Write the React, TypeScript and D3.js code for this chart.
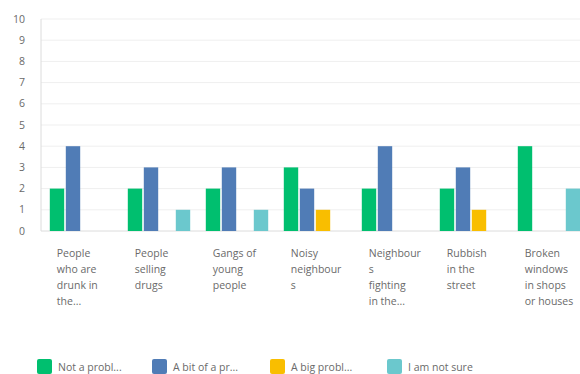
import React from "react";
import * as d3 from "d3";

const categories = [
  "People who are drunk in the street",
  "People selling drugs",
  "Gangs of young people",
  "Noisy neighbours",
  "Neighbours fighting in the street",
  "Rubbish in the street",
  "Broken windows in shops or houses",
];
const categoryLabelLines = [
  ["People", "who are", "drunk in", "the..."],
  ["People", "selling", "drugs"],
  ["Gangs of", "young", "people"],
  ["Noisy", "neighbour", "s"],
  ["Neighbour", "s", "fighting", "in the..."],
  ["Rubbish", "in the", "street"],
  ["Broken", "windows", "in shops", "or houses"],
];
const seriesNames = ["Not a probl...", "A bit of a pr...", "A big probl...", "I am not sure"];
const notAProblem = [2, 2, 2, 3, 2, 2, 4];
const bitOfAProblem = [4, 3, 3, 2, 4, 3, 0];
const bigProblem = [0, 0, 0, 1, 0, 1, 0];
const notSure = [0, 1, 1, 0, 0, 0, 2];
const yTicks = [0, 1, 2, 3, 4, 5, 6, 7, 8, 9, 10];
const colors = ["#00BF6F", "#507CB6", "#F9BE00", "#6BC8CD"];

const W = 580;
const H = 374;

export default function App() {
  const seriesValues = [notAProblem, bitOfAProblem, bigProblem, notSure];
  const left = 41;
  const y = d3.scaleLinear().domain([0, 10]).range([231, 19]);
  const x0 = d3
    .scaleBand<string>()
    .domain(categories)
    .range([left + 1, left + 1 + 78 * 7])
    .paddingInner(0.2)
    .paddingOuter(0.1);
  const x1 = d3
    .scaleBand<string>()
    .domain(seriesNames)
    .range([0, x0.bandwidth()])
    .paddingInner(0.1);
  const font = "'Open Sans', 'Noto Sans', sans-serif";
  const textColor = "#6a6a6a";
  const legendX = [37, 152, 270, 387];

  return (
    <svg
      width={W}
      height={H}
      style={{ position: "absolute", left: 0, top: 0, background: "#fff" }}
      fontFamily={font}
    >
      {yTicks.map((t) => (
        <g key={t}>
          {t > 0 && (
            <line x1={left} x2={W} y1={y(t)} y2={y(t)} stroke="#efefef" strokeWidth={1} />
          )}
          <text
            x={25}
            y={y(t)}
            dy="0.35em"
            textAnchor="end"
            fontSize={10.5}
            fill={textColor}
          >
            {t}
          </text>
        </g>
      ))}
      <line x1={left} x2={left} y1={y(10)} y2={y(0)} stroke="#dcdcdc" />
      <line x1={left} x2={W} y1={y(0)} y2={y(0)} stroke="#dcdcdc" />
      {categories.map((c, ci) => (
        <g key={c} transform={`translate(${x0(c)},0)`}>
          {seriesNames.map((s, si) => {
            const v = seriesValues[si][ci];
            if (!v) return null;
            return (
              <rect
                key={s}
                x={x1(s)}
                y={y(v)}
                width={x1.bandwidth()}
                height={y(0) - y(v)}
                fill={colors[si]}
              />
            );
          })}
          <text fontSize={10.5} fill={textColor}>
            {categoryLabelLines[ci].map((ln, li) => (
              <tspan key={li} x={7} y={257 + li * 16}>
                {ln}
              </tspan>
            ))}
          </text>
        </g>
      ))}
      {seriesNames.map((s, si) => (
        <g key={s} transform={`translate(${legendX[si]},359)`}>
          <rect width={15} height={15} rx={2} fill={colors[si]} />
          <text x={21} y={8} dy="0.35em" fontSize={10.5} fill={textColor}>
            {s}
          </text>
        </g>
      ))}
    </svg>
  );
}
